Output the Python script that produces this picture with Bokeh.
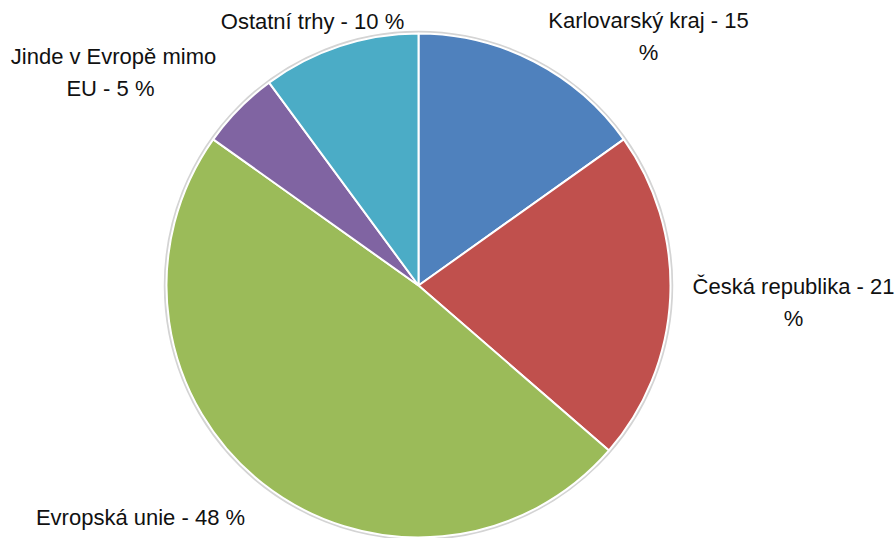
import math
from bokeh.plotting import figure
from bokeh.models import Range1d, ColumnDataSource
from bokeh.core.properties import value
from bokeh.embed import file_html
from bokeh.resources import INLINE

# ---- data ----
categories = ["Karlovarský kraj", "Česká republika", "Evropská unie",
              "Jinde v Evropě mimo EU", "Ostatní trhy"]
shares = [15, 21, 48, 5, 10]
labels = ["Karlovarský kraj - 15\n%", "Česká republika - 21\n%",
          "Evropská unie - 48 %", "Jinde v Evropě mimo\nEU  - 5 %",
          "Ostatní trhy - 10 %"]
colors = ["#4F81BD", "#C0504D", "#9BBB59", "#8064A2", "#4BACC6"]

# ---- layout (pixel coordinates, y downward -> negated) ----
W, H = 896, 538
CX, CY, R = 418, 285, 252
label_pos = [(648, 36), (793, 302), (140, 517), (113, 72), (312, 21)]

total = float(sum(shares))
starts, ends = [], []
cum = 0.0
for s in shares:
    starts.append(math.pi / 2 - 2 * math.pi * cum / total)
    cum += s
    ends.append(math.pi / 2 - 2 * math.pi * cum / total)

p = figure(width=W, height=H, output_backend="svg", toolbar_location=None,
           x_range=Range1d(0, W), y_range=Range1d(-H, 0),
           min_border=0)
p.axis.visible = False
p.grid.visible = False
p.outline_line_color = None
p.background_fill_color = "white"
p.border_fill_color = "white"

# soft outline around pie
p.circle(x=[CX], y=[-CY], radius=R + 1.5, fill_color=None,
         line_color="#d4d4d4", line_width=2.5)

src = ColumnDataSource(dict(cat=categories, start=starts, end=ends, color=colors))
p.wedge(x=CX, y=-CY, radius=R, start_angle="start", end_angle="end",
        direction="clock", fill_color="color", line_color="white",
        line_width=2, source=src)

lsrc = ColumnDataSource(dict(x=[a for a, b in label_pos],
                             y=[-b for a, b in label_pos], text=labels))
p.text(x="x", y="y", text="text", source=lsrc, text_align="center",
       text_baseline="middle", text_font=value("Liberation Sans"),
       text_font_size="22px", text_color="#111111", text_line_height=1.3)

open("out.html", "w").write(file_html(p, INLINE))
